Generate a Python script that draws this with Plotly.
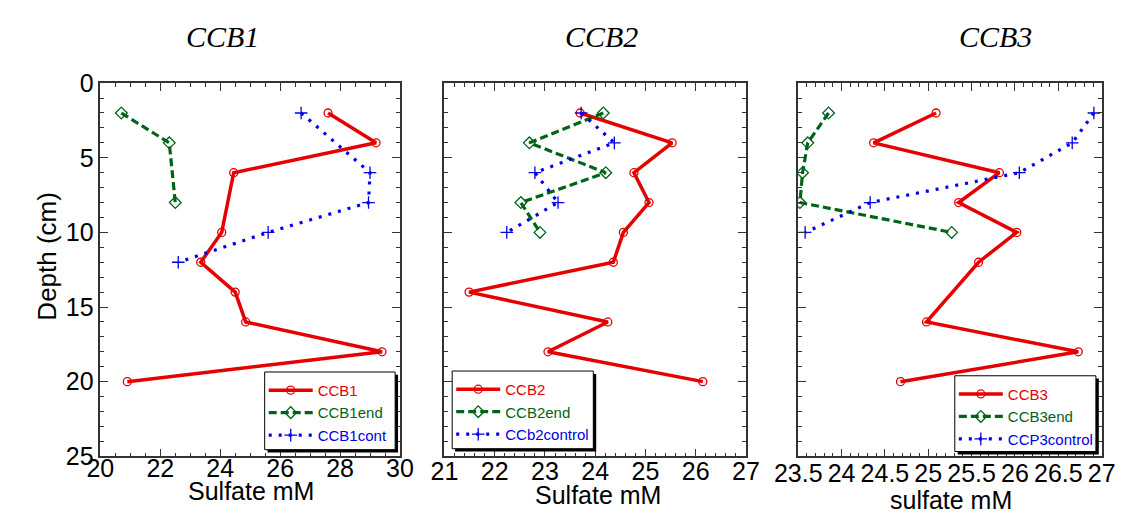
import plotly.graph_objects as go

# ---- data: sulfate (mM) versus depth (cm) ----
depth_ccb1 = [2, 4, 6, 10, 12, 14, 16, 18, 20]
ccb1 = [27.6, 29.2, 24.45, 24.05, 23.35, 24.5, 24.85, 29.4, 20.9]
depth_ccb1end = [2, 4, 8]
ccb1end = [20.7, 22.3, 22.5]
depth_ccb1cont = [2, 6, 8, 10, 12]
ccb1cont = [26.7, 29.0, 28.95, 25.6, 22.6]

depth_ccb2 = [2, 4, 6, 8, 10, 12, 14, 16, 18, 20]
ccb2 = [23.7, 25.53, 24.77, 25.07, 24.56, 24.36, 21.49, 24.25, 23.06, 26.14]
depth_ccb2end = [2, 4, 6, 8, 10]
ccb2end = [24.16, 22.69, 24.21, 22.52, 22.9]
depth_ccb2control = [2, 4, 6, 8, 10]
ccb2control = [23.72, 24.38, 22.8, 23.26, 22.24]

depth_ccb3 = [2, 4, 6, 8, 10, 12, 16, 18, 20]
ccb3 = [25.09, 24.37, 25.82, 25.35, 26.02, 25.58, 24.98, 26.73, 24.68]
depth_ccb3end = [2, 4, 6, 8, 10]
ccb3end = [23.85, 23.61, 23.55, 23.52, 25.27]
depth_ccp3control = [2, 4, 6, 8, 10]
ccp3control = [26.91, 26.66, 26.05, 24.33, 23.58]

panel_titles = ["CCB1", "CCB2", "CCB3"]
x_titles = ["Sulfate mM", "Sulfate mM", "sulfate mM"]
y_title = "Depth (cm)"
names1 = ["CCB1", "CCB1end", "CCB1cont"]
names2 = ["CCB2", "CCB2end", "CCb2control"]
names3 = ["CCB3", "CCB3end", "CCP3control"]

W, H = 1136, 529
RED, GREEN, BLUE = "#e60000", "#006418", "#0000e6"
SANS = "Liberation Sans, Arial, sans-serif"
SERIF = "Liberation Serif, Times New Roman, serif"
AX = "#333333"


def px(x):
    return x / W


def py(y):
    return 1 - y / H


styles = [
    dict(color=RED, width=3.5, dash="solid", symbol="circle-open", size=8),
    dict(color=GREEN, width=3.2, dash="8px,4px", symbol="diamond-open", size=9),
    dict(color=BLUE, width=3.2, dash="3px,7px", symbol="cross-thin-open", size=9),
]

panels = [
    (names1, [(ccb1, depth_ccb1), (ccb1end, depth_ccb1end), (ccb1cont, depth_ccb1cont)]),
    (names2, [(ccb2, depth_ccb2), (ccb2end, depth_ccb2end), (ccb2control, depth_ccb2control)]),
    (names3, [(ccb3, depth_ccb3), (ccb3end, depth_ccb3end), (ccp3control, depth_ccp3control)]),
]

fig = go.Figure()
for i, (names, series) in enumerate(panels):
    sfx = "" if i == 0 else str(i + 1)
    for name, (vals, dep), st in zip(names, series, styles):
        fig.add_trace(go.Scatter(
            x=vals, y=dep, mode="lines+markers",
            name=f'<span style="color:{st["color"]}">{name}</span>',
            xaxis="x" + sfx, yaxis="y" + sfx, legend="legend" + sfx,
            line=dict(color=st["color"], width=st["width"], dash=st["dash"]),
            marker=dict(symbol=st["symbol"], size=st["size"], color=st["color"],
                        line=dict(color=st["color"], width=1.3)),
        ))

# panel frames (pixel extents of each plotting area)
x_px = [(79, 389), (435, 747), (801, 1115)]
y_px = (73, 467)
x_ranges = [[20, 30], [21, 27], [23.5, 27]]
x_dticks = [2, 1, 0.5]
x_minor = [0.5, 0.2, 0.1]
x_label_shift = [-11, -8, -6]

common = dict(
    showline=True, linecolor=AX, linewidth=1.5, mirror="allticks",
    ticks="inside", ticklen=8, tickwidth=1.2, tickcolor=AX,
    showgrid=False, zeroline=False,
    tickfont=dict(family=SANS, size=25, color="black"),
)

layout = dict(width=W, height=H, margin=dict(l=0, r=0, t=0, b=0),
              paper_bgcolor="white", plot_bgcolor="white", showlegend=True)

for i in range(3):
    sfx = "" if i == 0 else str(i + 1)
    layout["xaxis" + sfx] = dict(
        common, domain=[px(x_px[i][0]), px(x_px[i][1])], range=x_ranges[i],
        dtick=x_dticks[i], tick0=x_ranges[i][0], tickangle=0,
        ticklabelstandoff=x_label_shift[i],
        anchor="y" + sfx,
        minor=dict(dtick=x_minor[i], ticks="inside", ticklen=4, tickcolor=AX, tickwidth=1),
    )
    layout["yaxis" + sfx] = dict(
        common, domain=[py(y_px[1]), py(y_px[0])], range=[25, 0],
        dtick=5, tick0=0, showticklabels=(i == 0),
        anchor="x" + sfx,
        minor=dict(dtick=1, ticks="inside", ticklen=4, tickcolor=AX, tickwidth=1),
    )

# legend boxes (left, top, right, bottom) with a drop shadow
legend_boxes = [(249, 378, 384, 460), (443, 377, 589, 459), (963, 382, 1109, 462)]
shapes = []
for i, (l, t, r, b) in enumerate(legend_boxes):
    key = "legend" if i == 0 else "legend" + str(i + 1)
    layout[key] = dict(
        x=px(l - 1), y=py(t + 2), xanchor="left", yanchor="top",
        bgcolor="rgba(0,0,0,0)", borderwidth=0,
        font=dict(family=SANS, size=15),
        tracegroupgap=0, itemwidth=44,
    )
    shapes.append(dict(type="rect", xref="paper", yref="paper", layer="above",
                       x0=px(l + 3), x1=px(r + 3), y0=py(b + 3), y1=py(t + 3),
                       fillcolor="black", line=dict(width=0)))
    shapes.append(dict(type="rect", xref="paper", yref="paper", layer="above",
                       x0=px(l), x1=px(r), y0=py(b), y1=py(t),
                       fillcolor="white", line=dict(color="black", width=1)))

fig.update_layout(**layout)

ann = []
for t, cx in zip(panel_titles, [205, 597, 1005]):
    ann.append(dict(text=t, x=px(cx), y=py(24), xref="paper", yref="paper",
                    showarrow=False, xanchor="center", yanchor="middle",
                    font=dict(family=SERIF, size=30, style="italic", color="black")))
for t, (cx, cy) in zip(x_titles, [(235, 504), (594, 508), (959, 513)]):
    ann.append(dict(text=t, x=px(cx), y=py(cy), xref="paper", yref="paper",
                    showarrow=False, xanchor="center", yanchor="middle",
                    font=dict(family=SANS, size=25, color="black")))
ann.append(dict(text=y_title, x=px(24), y=py(256), xref="paper", yref="paper",
                showarrow=False, xanchor="center", yanchor="middle", textangle=-90,
                font=dict(family=SANS, size=26, color="black")))
fig.update_layout(annotations=ann, shapes=shapes)

fig.write_html("out.html")
